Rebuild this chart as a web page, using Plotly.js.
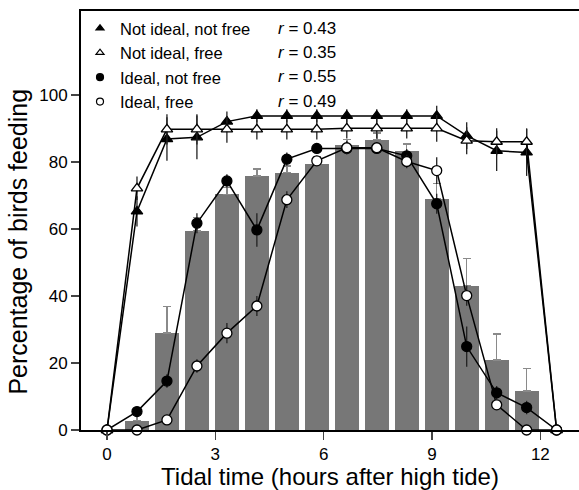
<!DOCTYPE html>
<html>
<head>
<meta charset="utf-8">
<script src="https://cdn.plot.ly/plotly-3.0.1.min.js"></script>
<style>html,body{margin:0;padding:0;background:#fff;}#chart{width:579px;height:490px;}</style>
</head>
<body>
<div id="chart"></div>
<script>
// Tidal time (hours after high tide)
const times = [0, 0.83, 1.66, 2.49, 3.32, 4.15, 4.98, 5.81, 6.64, 7.47, 8.30, 9.13, 9.96, 10.79, 11.62, 12.45];
const barTimes = [0.83, 1.66, 2.49, 3.32, 4.15, 4.98, 5.81, 6.64, 7.47, 8.30, 9.13, 9.96, 10.79, 11.62];
const barValues = [2.8, 28.9, 59.4, 70.3, 75.8, 76.8, 79.4, 84.9, 86.6, 83.1, 69.0, 43.1, 20.9, 11.6];
const barErrors = [1.5, 8.0, 4.0, 2.0, 2.0, 2.0, 2.0, 1.7, 2.0, 2.2, 4.6, 8.1, 7.7, 6.7];

const seriesNames = ["Not ideal, not free", "Not ideal, free", "Ideal, not free", "Ideal, free"];
const rValues = ["0.43", "0.35", "0.55", "0.49"];

const notIdealNotFree = [0, 65.2, 86.8, 87.3, 92.0, 93.7, 93.7, 93.7, 93.7, 93.7, 93.7, 93.7, 87.8, 83.3, 82.8, 0];
const notIdealNotFreeErr = [0, 4.5, 6.5, 6.5, 3, 2, 2, 2, 2, 2, 2, 3, 4, 6, 7, 0];
const notIdealFree = [0, 72.1, 89.7, 89.7, 89.7, 89.7, 89.7, 89.7, 90.0, 90.0, 90.0, 90.0, 86.3, 86.0, 86.0, 0];
const notIdealFreeErr = [0, 3.5, 4.5, 4.5, 4, 3, 3, 3, 3, 3, 3, 4, 4, 4, 4, 0];
const idealNotFree = [0, 5.5, 14.6, 61.7, 74.3, 59.7, 80.8, 84.0, 84.0, 84.0, 81.8, 67.5, 24.9, 11.1, 6.7, 0];
const idealNotFreeErr = [0, 1, 2, 3, 2, 5, 2, 1.5, 1.5, 1.5, 2, 3, 6, 2, 2, 0];
const idealFree = [0, 0, 3.0, 19.1, 28.9, 37.0, 68.7, 80.3, 84.2, 84.2, 80.1, 77.4, 40.1, 7.5, 0, 0];
const idealFreeErr = [0, 0.5, 1, 2, 3, 3, 2.5, 1.5, 2, 1.5, 2, 4, 3, 1.5, 0.5, 0];

const seriesData = [notIdealNotFree, notIdealFree, idealNotFree, idealFree];
const seriesErr = [notIdealNotFreeErr, notIdealFreeErr, idealNotFreeErr, idealFreeErr];
const symbols = ["triangle-up", "triangle-up", "circle", "circle"];
const fills = ["#000000", "#ffffff", "#000000", "#ffffff"];

const FONT = "Liberation Sans, Arial, sans-serif";

const traces = [];
traces.push({
  type: "bar", x: barTimes, y: barValues, width: 0.66,
  marker: {color: "#777777", line: {width: 0}},
  error_y: {type: "data", symmetric: false, array: barErrors, arrayminus: barErrors.map(() => 0),
            color: "#8a8a8a", thickness: 1.5, width: 4},
  showlegend: false, hoverinfo: "skip"
});
for (let i = 0; i < 4; i++) {
  traces.push({
    type: "scatter", mode: "lines+markers", x: times, y: seriesData[i],
    line: {color: "#000", width: 1.5},
    marker: {symbol: symbols[i], size: 10, color: fills[i], line: {color: "#000", width: 1.3}},
    error_y: {type: "data", array: seriesErr[i], color: "#222", thickness: 1.3, width: 0},
    cliponaxis: false, showlegend: false
  });
}
for (let i = 0; i < 4; i++) {
  traces.push({
    type: "scatter", mode: "markers", x: [null], y: [null], name: seriesNames[i],
    marker: {symbol: symbols[i], size: 7, color: fills[i], line: {color: "#000", width: 1.2}},
    showlegend: true
  });
}

const rowY = [0.959, 0.901, 0.843, 0.785];
const annotations = rValues.map((r, i) => ({
  xref: "paper", yref: "paper", x: 0.392, y: rowY[i],
  xanchor: "left", yanchor: "middle", showarrow: false,
  text: "<i>r</i> = " + r, font: {size: 17, color: "#000", family: FONT}
}));
annotations.push({
  xref: "paper", yref: "paper", x: -0.127, y: 0.449, xanchor: "center", yanchor: "middle",
  textangle: -90, showarrow: false, text: "Percentage of birds feeding",
  font: {size: 25, color: "#000", family: FONT}
});

const layout = {
  width: 579, height: 490,
  margin: {l: 81, r: 0, t: 11, b: 60},
  paper_bgcolor: "#fff", plot_bgcolor: "#fff",
  font: {family: FONT, color: "#000", size: 17},
  showlegend: true,
  legend: {x: -0.002, y: 1.0, xanchor: "left", yanchor: "top", bgcolor: "rgba(0,0,0,0)",
           font: {size: 16.5}, tracegroupgap: 0, itemsizing: "trace"},
  bargap: 0,
  xaxis: {range: [-0.72, 13.07], tickvals: [0, 3, 6, 9, 12], ticks: "outside", ticklen: 8, tickwidth: 1.5,
          showline: true, linewidth: 2, linecolor: "#000", mirror: true, showgrid: false, zeroline: false,
          title: {text: "Tidal time (hours after high tide)", font: {size: 24}, standoff: 2},
          tickfont: {size: 17}},
  yaxis: {range: [0, 125], tickvals: [0, 20, 40, 60, 80, 100], ticks: "outside", ticklen: 8, tickwidth: 1.5,
          showline: true, linewidth: 2, linecolor: "#000", showgrid: false, zeroline: false,
          tickfont: {size: 17}},
  annotations: annotations
};

Plotly.newPlot("chart", traces, layout, {displayModeBar: false, staticPlot: true});
</script>
</body>
</html>
